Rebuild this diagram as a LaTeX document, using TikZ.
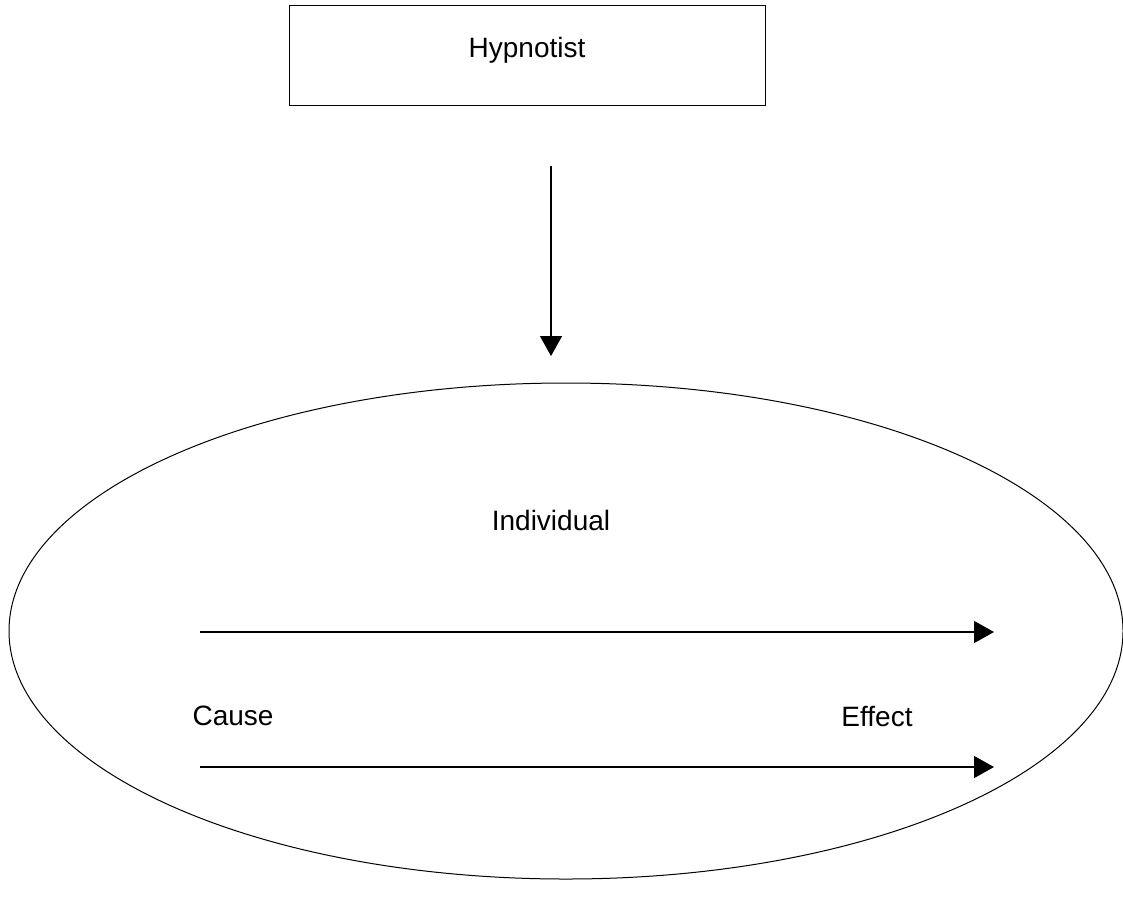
\documentclass[tikz,border=0pt]{standalone}
\usepackage{fontspec}
\setmainfont{Liberation Sans}
\usetikzlibrary{arrows.meta,shapes.geometric}
\tikzset{
  agent/.style  = {shape=rectangle, draw, line width=1pt,
                   minimum width=476pt, minimum height=100pt},
  mind/.style   = {shape=ellipse, draw, line width=1pt, inner sep=0pt,
                   minimum width=1114pt, minimum height=496pt},
  label/.style  = {font=\fontsize{28}{32}\selectfont},
  flow/.style   = {line width=1.3pt,
                   -{Triangle[length=20pt,width=22pt]}}
}
\begin{document}
\begin{tikzpicture}[x=1pt,y=-1pt]
  \useasboundingbox (0,0) rectangle (1123,919);

  \node[agent] (hyp) at (527,55) {};
  \node[label] (hyptext) at (527,50) {Hypnotist};

  \node[mind] (ind) at (566,631) {};
  \node[label] (indtext) at (551,520) {Individual};

  \node[label] (cause) at (233,716) {Cause};
  \node[label] (effect) at (877,716) {Effect};

  \coordinate (top) at (551,166);
  \coordinate (bot) at (551,356);
  \coordinate (c1) at (200,632);
  \coordinate (e1) at (994,632);
  \coordinate (c2) at (200,767);
  \coordinate (e2) at (994,767);

  \draw[flow] (top) -- (bot);
  \draw[flow] (c1) -- (e1);
  \draw[flow] (c2) -- (e2);
\end{tikzpicture}
\end{document}
